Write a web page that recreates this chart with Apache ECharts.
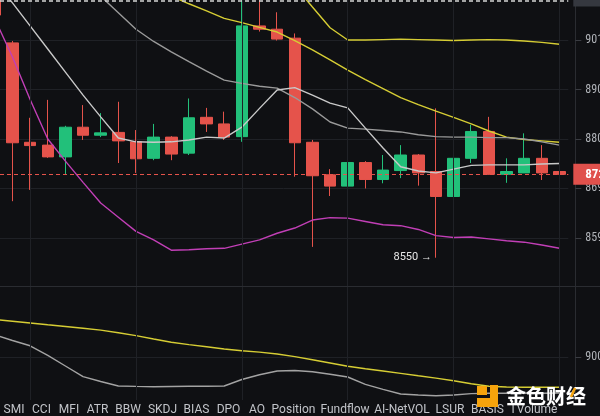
<!DOCTYPE html>
<html><head><meta charset="utf-8">
<script src="https://cdn.jsdelivr.net/npm/echarts@6/dist/echarts.min.js"></script>
<style>html,body{margin:0;padding:0;background:#0f1013;}#c{width:600px;height:416px;}</style>
</head><body><div id="c"></div>
<script>
// ---------- data ----------
const categories = ['1','2','3','4','5','6','7','8','9','10','11','12','13','14','15','16','17','18','19','20','21','22','23','24','25','26','27','28','29','30','31','32','33'];
const openP  = [9150,9006,8795,8789,8764,8827,8810,8816,8796,8761,8806,8772,8848,8834,8807,9042,9035,9016,8795,8726,8702,8752,8716,8735,8768,8733,8680,8761,8818,8727,8730,8761,8733];
const closeP = [9065,8794,8788,8764,8827,8810,8815,8798,8760,8806,8770,8847,8834,8806,9042,9035,9014,8794,8724,8702,8752,8716,8736,8768,8730,8680,8761,8818,8727,8733,8761,8730,8727];
const lowP   = [9040,8670,8694,8762,8726,8800,8806,8751,8730,8757,8757,8768,8817,8800,8796,9030,9011,8722,8573,8681,8692,8697,8708,8719,8703,8550,8669,8751,8726,8709,8730,8715,8727];
const highP  = [9170,9010,8847,8885,8830,8874,8857,8881,8821,8834,8808,8888,8868,8860,9100,9100,9071,9026,8800,8738,8783,8755,8768,8789,8770,8867,8786,8832,8849,8761,8814,8789,8733];

const maFast = [9137,9091,9042,8993,8944,8895,8849,8804,8796,8795,8796,8800,8806,8804,8827,8867,8906,8911,8895,8878,8868,8825,8783,8743,8734,8730,8738,8746,8747,8747,8747,8749,8750];
const maMid  = [null,null,null,null,null,9141,9105,9070,9035,9009,8987,8966,8946,8927,8920,8914,8910,8890,8866,8838,8825,8823,8820,8817,8811,8807,8806,8806,8805,8805,8802,8796,8789];
const maSlow = [null,null,null,null,null,null,null,null,null,9118,9105,9089,9074,9058,9049,9039,9029,9011,8991,8970,8948,8928,8909,8890,8875,8861,8848,8834,8819,8806,8801,8798,8795];
const maLong = [null,null,null,null,null,null,null,null,null,null,null,null,null,null,null,null,null,9127,9082,9038,9012,9012,9013,9014,9013,9012,9011,9012,9013,9012,9010,9007,9003];
const lowerBand = [9057,8976,8886,8802,8755,8710,8666,8636,8606,8588,8566,8567,8569,8570,8579,8588,8602,8613,8630,8635,8634,8627,8620,8618,8610,8597,8593,8594,8590,8586,8583,8577,8570];

const subYellow = [9872,9833,9791,9749,9709,9668,9626,9563,9498,9419,9342,9288,9237,9186,9147,9114,9070,9009,8937,8861,8784,8726,8674,8619,8563,8509,8449,8377,8319,8302,8295,8295,8295];
const subGrey   = [9512,9384,9261,9037,8791,8542,8430,8326,8316,8309,8314,8319,8321,8326,8477,8588,8674,8686,8656,8598,8535,8363,8247,8140,8116,8098,8116,8149,8156,8156,8156,8156,8163];

const priceTicks = [8592,8697,8802,8907,9012];
const subTicks = [9000];
const lastPrice = 8727;
const topLineValue = 9096;
const topLineLabel = '9100';
const lowMark = 8550;
const lowMarkIndex = 25;
const vGridIdx = [2,8,14,20,26,32];
const tabLabels = ['SMI','CCI','MFI','ATR','BBW','SKDJ','BIAS','DPO','AO','Position','Fundflow','AI-NetVOL','LSUR','BASIS','TVolume'];
const tabX = [14,41.5,69,97.5,128,162.5,196.5,228.5,257,293.5,345,402,450,487.5,533.5];
const logoText = '金色财经';

// ---------- chart ----------
const UP = '#22c07a', DOWN = '#e5534b';
const GRID = '#1f2126', AXIS = '#2a2c31';
const NARROW = '"Liberation Sans Narrow", "Roboto Condensed", Roboto, sans-serif';
const candleData = openP.map((o, i) => [o, closeP[i], lowP[i], highP[i]]);
const vLines = vGridIdx.map(i => ({ xAxis: categories[i], lineStyle: { color: GRID, width: 1, type: 'solid' }, label: { show: false } }));
const plain = v => String(v);

function lineSeries(data, color, x, y, w) {
  return { type: 'line', data: data, xAxisIndex: x, yAxisIndex: y, symbol: 'none', showSymbol: false,
    lineStyle: { color: color, width: w || 1.4 }, connectNulls: false, animation: false, silent: true, z: 3 };
}

const chart = echarts.init(document.getElementById('c'), null, { renderer: 'canvas' });
chart.setOption({
  backgroundColor: '#0f1013',
  animation: false,
  textStyle: { fontFamily: 'Roboto' },
  grid: [
    { left: -14, right: 31.7, top: 0, height: 286, outerBoundsMode: 'none', containLabel: false },
    { left: -14, right: 31.7, top: 287, height: 113, outerBoundsMode: 'none', containLabel: false }
  ],
  xAxis: [
    { type: 'category', gridIndex: 0, data: categories, boundaryGap: true, show: false },
    { type: 'category', gridIndex: 1, data: categories, boundaryGap: true, show: false }
  ],
  yAxis: [
    { type: 'value', gridIndex: 0, position: 'right', offset: 7, min: 8490, max: 9097,
      axisLine: { show: true, lineStyle: { color: AXIS } },
      axisTick: { show: true, customValues: priceTicks, length: 6, lineStyle: { color: '#3a3c42' } },
      axisLabel: { customValues: priceTicks, formatter: plain, color: '#b0b3b8', fontSize: 12, margin: 10, fontFamily: NARROW },
      splitLine: { show: true, lineStyle: { color: GRID } } },
    { type: 'value', gridIndex: 1, position: 'right', offset: 7, min: 8000, max: 10628,
      axisLine: { show: true, lineStyle: { color: AXIS } },
      axisTick: { show: true, customValues: subTicks, length: 6, lineStyle: { color: '#3a3c42' } },
      axisLabel: { customValues: subTicks, formatter: plain, color: '#b0b3b8', fontSize: 12, margin: 10, fontFamily: NARROW },
      splitLine: { show: true, lineStyle: { color: GRID } } }
  ],
  series: [
    { type: 'candlestick', xAxisIndex: 0, yAxisIndex: 0, data: candleData, barWidth: 12, z: 2,
      itemStyle: { color: UP, color0: DOWN, borderColor: UP, borderColor0: DOWN, borderWidth: 1 },
      markLine: { silent: true, symbol: ['none', 'none'], animation: false,
        data: vLines.concat([
          { yAxis: lastPrice, lineStyle: { color: DOWN, type: [4, 3], width: 1 },
            label: { show: true, position: 'end', distance: 5, formatter: String(lastPrice), color: '#fff',
              fontWeight: 'bold', fontSize: 13, lineHeight: 15, fontFamily: NARROW, backgroundColor: '#e0514c', padding: [3, 6, 3, 12] } },
          { yAxis: topLineValue, lineStyle: { color: '#d6d6d6', type: [4, 3], width: 1.5 },
            label: { show: true, position: 'end', distance: 5, formatter: topLineLabel, color: '#e6e6e6',
              fontSize: 12, lineHeight: 14, fontFamily: NARROW, backgroundColor: '#35383f', padding: [3, 6, 3, 12], offset: [0, -4] } }
        ]) },
      markPoint: { silent: true, animation: false, symbol: 'circle', symbolSize: 0,
        data: [{ coord: [categories[lowMarkIndex], lowMark],
          label: { show: true, position: 'left', distance: 4, formatter: lowMark + ' →', color: '#e8e8e8', fontSize: 11 } }] } },
    lineSeries(lowerBand, '#c13fb6', 0, 0),
    lineSeries(maLong, '#d6cd34', 0, 0),
    lineSeries(maSlow, '#d6cd34', 0, 0),
    lineSeries(maMid, '#9a9a9a', 0, 0),
    lineSeries(maFast, '#c9c9c9', 0, 0),
    Object.assign(lineSeries(subGrey, '#a3a3a3', 1, 1), {
      markLine: { silent: true, symbol: ['none', 'none'], animation: false, data: vLines } }),
    lineSeries(subYellow, '#d6cd34', 1, 1)
  ],
  graphic: [
    { type: 'line', z: 5, shape: { x1: 0, y1: 286.5, x2: 600, y2: 286.5 }, style: { stroke: AXIS, lineWidth: 1 } }
  ].concat(tabLabels.map((t, i) => ({
    type: 'text', z: 5, x: tabX[i], y: 410,
    style: { text: t, fill: '#c2c4c9', font: '12px Roboto', align: 'center', verticalAlign: 'middle' }
  }))).concat([
    { type: 'group', z: 100, children: [
      { type: 'rect', z: 100, shape: { x: 477, y: 386, width: 10, height: 9 }, style: { fill: '#f5a30c' } },
      { type: 'rect', z: 100, shape: { x: 490, y: 385, width: 8, height: 22 }, style: { fill: '#f5a30c' } },
      { type: 'rect', z: 100, shape: { x: 477, y: 398, width: 21, height: 9 }, style: { fill: '#f5a30c' } },
      { type: 'text', z: 100, x: 506, y: 396, style: { text: logoText, fill: '#ffffff', font: 'bold 20px "Noto Sans CJK SC"', align: 'left', verticalAlign: 'middle' } },
      { type: 'line', z: 101, shape: { x1: 575, y1: 388, x2: 571, y2: 397 }, style: { stroke: '#f5a30c', lineWidth: 2.5 } }
    ] }
  ])
});
</script>
</body></html>
